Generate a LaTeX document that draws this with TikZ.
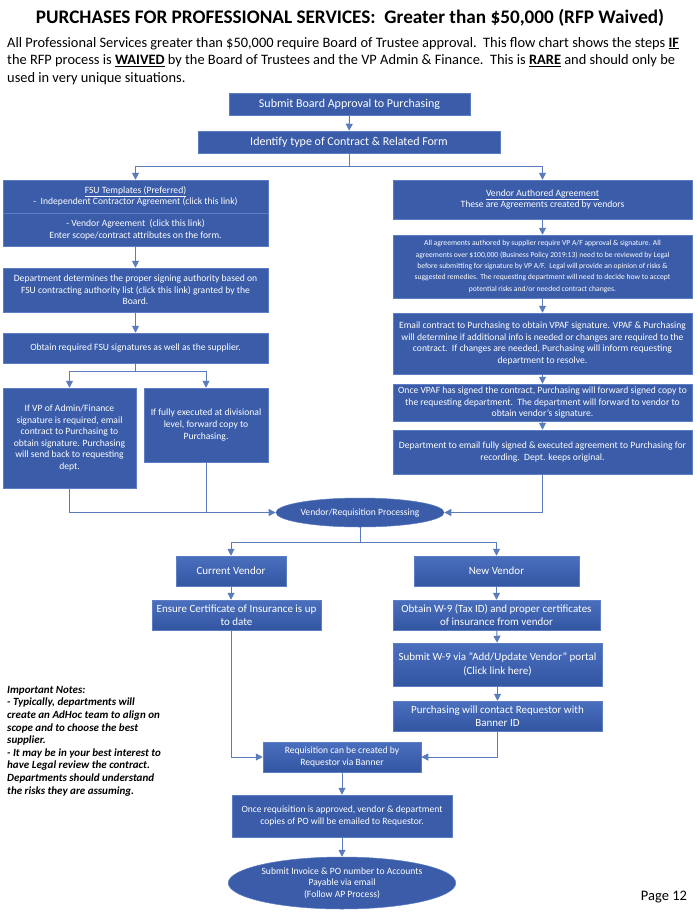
\documentclass[tikz,border=0pt]{standalone}
\usepackage{fontspec}
\setmainfont{Carlito}
\usetikzlibrary{arrows.meta,shapes.geometric}
\definecolor{boxblue}{HTML}{3A5CA9}
\definecolor{boxtop}{HTML}{4A6FBE}
\definecolor{boxbot}{HTML}{3356A2}
\definecolor{boxedge}{HTML}{5D7EC2}
\definecolor{linkblue}{HTML}{5A7BBC}
\hyphenpenalty=10000
\exhyphenpenalty=10000
\tikzset{
  box/.style={rectangle, fill=boxblue, draw=boxedge, line width=0.5pt, text=white, align=center, inner sep=2pt},
  gbox/.style={box, top color=boxtop, bottom color=boxbot},
  oval/.style={ellipse, fill=boxblue, draw=boxedge, line width=0.5pt, text=white, align=center, inner sep=0pt},
  conn/.style={draw=linkblue, line width=1pt},
  arr/.style={conn, -{Triangle[length=7pt,width=7pt]}},
  fa/.style={font=\fontsize{9.6}{11.6}\selectfont},
  fb/.style={font=\fontsize{11}{13.5}\selectfont},
  fc/.style={font=\fontsize{12}{14}\selectfont},
  fs/.style={font=\fontsize{7.6}{11.3}\selectfont},
}
\begin{document}
\begin{tikzpicture}[x=1pt,y=-1pt]
\useasboundingbox (0,0) rectangle (700,921);
\fill[white] (0,0) rectangle (700,921);

% title and intro
\node[font=\fontsize{19.2}{22}\selectfont\bfseries] (title) at (350,18) {PURCHASES FOR PROFESSIONAL SERVICES:\ \ Greater than \$50,000 (RFP Waived)};
\node[anchor=north west, align=left, inner sep=0pt, font=\fontsize{14.4}{17.5}\selectfont] (intro) at (7,37)
 {All Professional Services greater than \$50,000 require Board of Trustee approval.\ \ This flow chart shows the steps \textbf{\underline{IF}}\\
  the RFP process is \textbf{\underline{WAIVED}} by the Board of Trustees and the VP Admin \& Finance.\ \ This is \textbf{\underline{RARE}} and should only be\\
  used in very unique situations.};

% top boxes
\node[box, fc, minimum width=241pt, minimum height=22pt] (b1) at (349.5,104) {Submit Board Approval to Purchasing};
\node[box, fc, minimum width=302pt, minimum height=22pt] (b2) at (349,142) {Identify type of Contract \& Related Form};

% left column
\node[box, fa, minimum width=265pt, minimum height=33pt] (fsuA) at (135.5,196.5) {\underline{FSU Templates (Preferred)}\\-\ \ Independent Contractor Agreement (click this link)};
\node[box, fa, minimum width=265pt, minimum height=33pt] (fsuB) at (135.5,229.5) {- Vendor Agreement\ \ (click this link)\\Enter scope/contract attributes on the form.};
\node[box, fa, minimum width=265pt, minimum height=44pt] (dept) at (135.5,290) {Department determines the proper signing authority based on\\FSU contracting authority list (click this link) granted by the\\Board.};
\node[box, fa, minimum width=265pt, minimum height=30pt] (obt) at (135.5,348) {Obtain required FSU signatures as well as the supplier.};
\node[box, fa, minimum width=133pt, minimum height=100pt] (vp) at (69.5,438) {If VP of Admin/Finance\\signature is required, email\\contract to Purchasing to\\obtain signature. Purchasing\\will send back to requesting\\dept.};
\node[box, fa, minimum width=124pt, minimum height=74pt] (full) at (206,425) {If fully executed at divisional\\level, forward copy to\\Purchasing.};

% right column
\node[box, fa, minimum width=299pt, minimum height=39pt] (vend) at (542.5,199.5) {\underline{Vendor Authored Agreement}\\These are Agreements created by vendors};
\node[box, fs, minimum width=299pt, minimum height=63pt] (allag) at (542.5,266.5) {All agreements authored by supplier require VP A/F approval \& signature. All\\agreements over \$100,000 (Business Policy 2019:13) need to be reviewed by Legal\\before submitting for signature by VP A/F.\ \ Legal will provide an opinion of risks \&\\suggested remedies. The requesting department will need to decide how to accept\\potential risks and/or needed contract changes.};
\node[box, fa, minimum width=299pt, minimum height=61pt] (email) at (542.5,343.5) {Email contract to Purchasing to obtain VPAF signature. VPAF \& Purchasing\\will determine if additional info is needed or changes are required to the\\contract.\ \ If changes are needed, Purchasing will inform requesting\\department to resolve.};
\node[box, fa, minimum width=299pt, minimum height=37pt, inner sep=1pt] (vpafs) at (542.5,402.5) {Once VPAF has signed the contract, Purchasing will forward signed copy to\\the requesting department.\ \ The department will forward to vendor to\\obtain vendor's signature.};
\node[box, fa, minimum width=299pt, minimum height=44pt] (deptem) at (542.5,452) {Department to email fully signed \& executed agreement to Purchasing for\\recording.\ \ Dept. keeps original.};

% middle / lower
\node[oval, fa, minimum width=156pt, minimum height=29pt] (vr) at (360,512.5) {Vendor/Requisition Processing};
\node[gbox, fb, minimum width=110pt, minimum height=30pt] (cur) at (231,571) {Current Vendor};
\node[gbox, fb, minimum width=165pt, minimum height=30pt] (new) at (496.5,571) {New Vendor};
\node[gbox, fb, minimum width=169pt, minimum height=30pt] (ens) at (236.5,615) {Ensure Certificate of Insurance is up\\to date};
\node[gbox, fb, minimum width=207pt, minimum height=30pt] (obw) at (496.5,615) {Obtain W-9 (Tax ID) and proper certificates\\of insurance from vendor};
\node[gbox, fb, minimum width=209pt, minimum height=43pt] (subw) at (497.5,664.5) {Submit W-9 via ``Add/Update Vendor'' portal\\(Click link here)};
\node[gbox, fb, minimum width=209pt, minimum height=30pt] (pur) at (497.5,716) {Purchasing will contact Requestor with\\Banner ID};
\node[gbox, fa, minimum width=158pt, minimum height=30pt] (req) at (342,757) {Requisition can be created by\\Requestor via Banner};
\node[box, fa, minimum width=220pt, minimum height=42pt] (once) at (342,816) {Once requisition is approved, vendor \& department\\copies of PO will be emailed to Requestor.};
\node[oval, fa, minimum width=220pt, minimum height=52pt] (inv) at (342,883) {Submit Invoice \& PO number to Accounts\\Payable via email\\(Follow AP Process)};

% notes and page
\node[anchor=north west, align=left, inner sep=0pt, font=\fontsize{11}{12.6}\selectfont\bfseries\itshape] (notes) at (7,686)
 {Important Notes:\\- Typically, departments will\\create an AdHoc team to align on\\scope and to choose the best\\supplier.\\- It may be in your best interest to\\have Legal review the contract.\\Departments should understand\\the risks they are assuming.};
\node[font=\fontsize{14.5}{16}\selectfont] (page) at (664,897) {Page 12};

% connectors
\coordinate (s1) at (349,166);
\coordinate (s2) at (135.5,371);
\coordinate (s3) at (360,542);
\draw[arr] (b1) -- (b2);
\draw[conn] (b2.south) -- (s1);
\draw[arr] (s1) -| (fsuA.north);
\draw[arr] (s1) -| (vend.north);
\draw[arr] (fsuB) -- (dept);
\draw[arr] (dept) -- (obt);
\draw[conn] (obt.south) -- (s2);
\draw[arr] (s2) -| (vp.north);
\draw[arr] (s2) -| (full.north);
\draw[arr] (vp.south) |- (vr.west);
\draw[conn] (full.south) -- (full.south |- vr.west);
\draw[arr] (vend) -- (allag);
\draw[arr] (allag) -- (email);
\draw[arr] (email) -- (vpafs);
\draw[arr] (vpafs) -- (deptem);
\draw[arr] (deptem.south) |- (vr.east);
\draw[conn] (vr.south) -- (s3);
\draw[arr] (s3) -| (cur.north);
\draw[arr] (s3) -| (new.north);
\draw[arr] (cur.south) -- (cur.south |- ens.north);
\draw[arr] (new) -- (obw);
\draw[arr] (obw) -- (subw);
\draw[arr] (subw) -- (pur);
\draw[arr] (cur.south |- ens.south) |- (req.west);
\draw[arr] (pur.south) |- (req.east);
\draw[arr] (req) -- (once);
\draw[arr] (once) -- (inv);
\end{tikzpicture}
\end{document}
